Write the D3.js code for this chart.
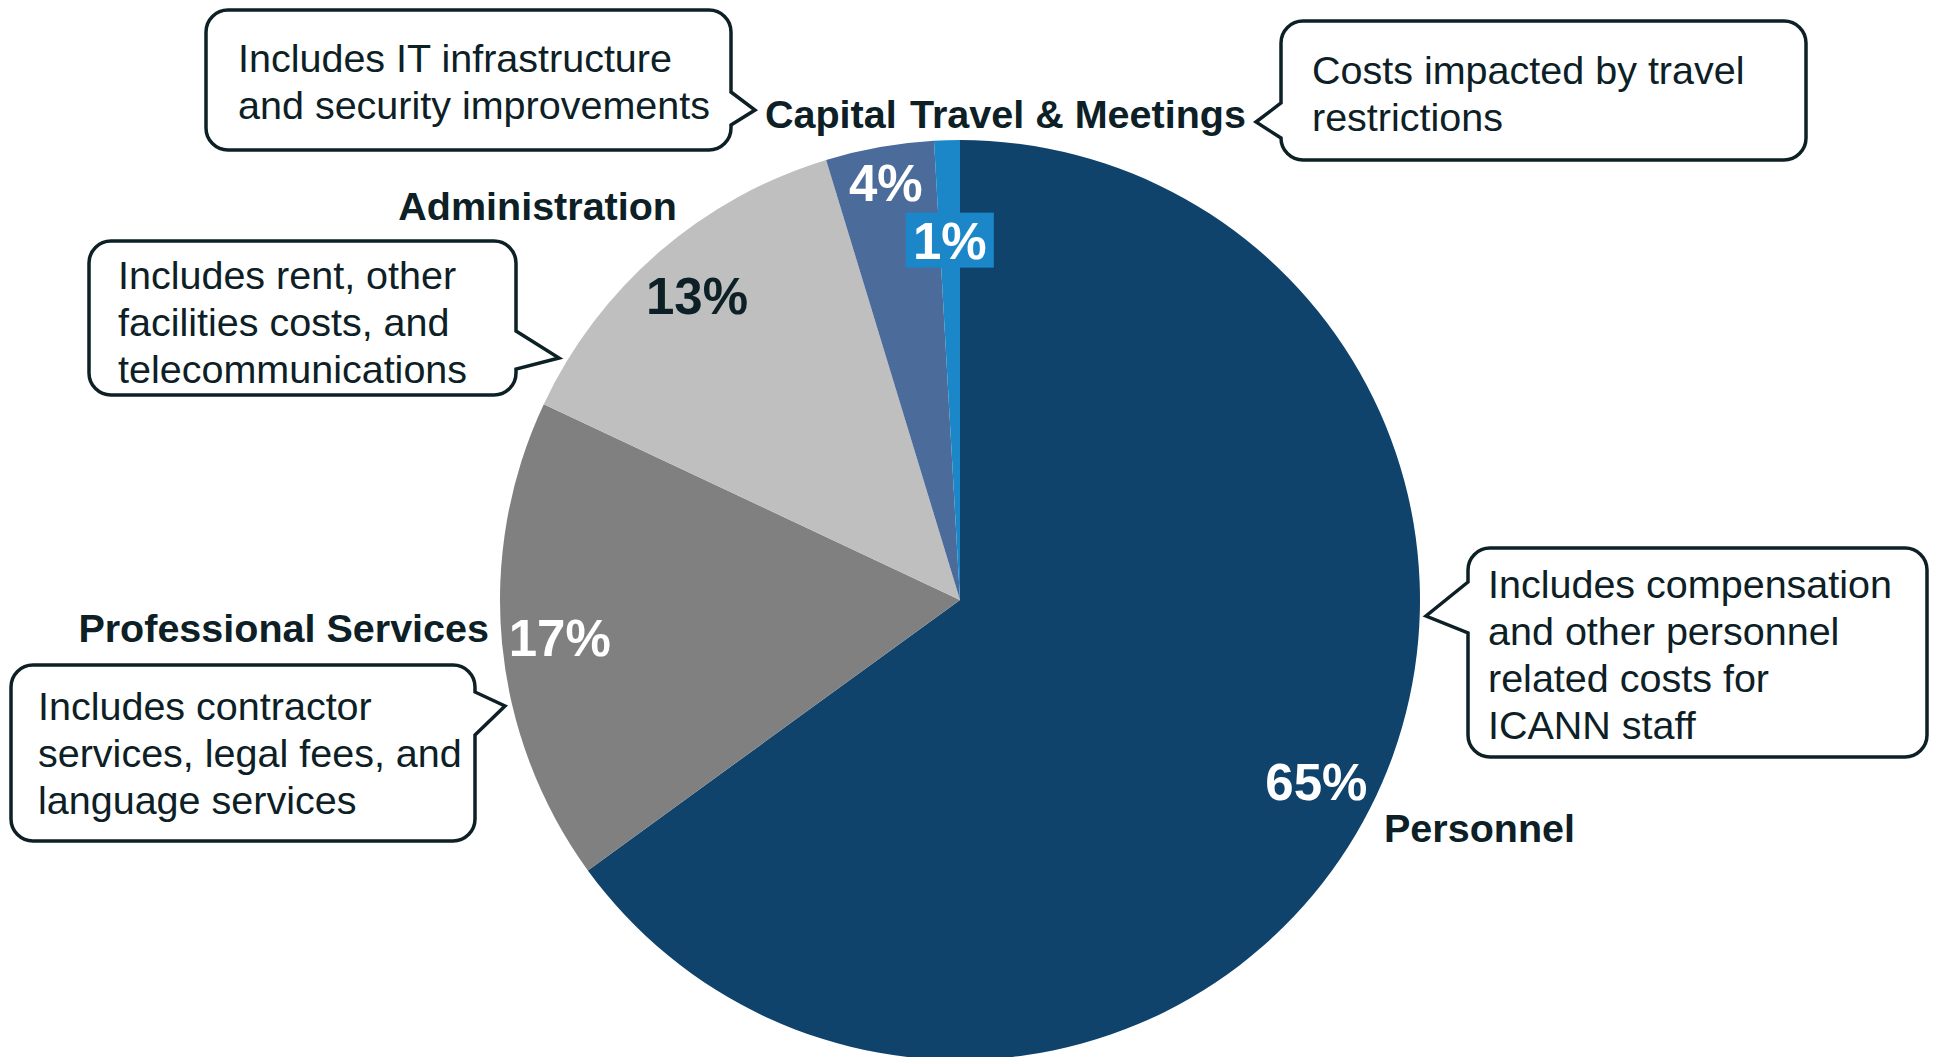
<!DOCTYPE html>
<html>
<head>
<meta charset="utf-8">
<script src="https://cdn.jsdelivr.net/npm/d3@7"></script>
<style>
  html, body { margin: 0; padding: 0; background: #fff; }
  svg { display: block; font-family: "Liberation Sans", Arial, sans-serif; }
  .cat { font-weight: bold; font-size: 39.5px; fill: #0d2026; }
  .pct { font-weight: bold; font-size: 51px; }
  .note { font-size: 39.5px; fill: #0d2026; }
  .bubble { fill: #fff; stroke: #0d2026; stroke-width: 3.5; stroke-linejoin: miter; }
</style>
</head>
<body>
<div id="chart"></div>
<script>
// Data
const categories = ["Personnel", "Professional Services", "Administration", "Capital", "Travel & Meetings"];
const shares = [65, 17, 13.3, 3.8, 0.9];
const shareLabels = ["65%", "17%", "13%", "4%", "1%"];
const notes = [
  ["Includes compensation", "and other personnel", "related costs for", "ICANN staff"],
  ["Includes contractor", "services, legal fees, and", "language services"],
  ["Includes rent, other", "facilities costs, and", "telecommunications"],
  ["Includes IT infrastructure", "and security improvements"],
  ["Costs impacted by travel", "restrictions"]
];

// Styling / layout
const width = 1936;
const height = 1057;
const center = { x: 960, y: 600 };
const radius = 460;
const colors = ["#10436c", "#808080", "#bfbfbf", "#4b6b9a", "#1b87c9"];
const pctColors = ["#fff", "#fff", "#0d2026", "#fff", "#fff"];
const pctRadius = [400, 402, 402, 424, 360];

// hand placed category labels
const catPos = [
  { x: 1384, y: 842, anchor: "start" },
  { x: 489, y: 642, anchor: "end" },
  { x: 677, y: 220, anchor: "end" },
  { x: 765, y: 128, anchor: "start" },
  { x: 910, y: 128, anchor: "start" }
];

// callout bubbles: box, which side the pointer is on, pointer base and tip
const bubbles = [
  { x: 1468, y: 548, w: 459, h: 209, side: "left", p0: 582, p1: 633, tip: [1426, 616], tx: 1488, ty: 598 },
  { x: 11, y: 665, w: 464, h: 176, side: "right", p0: 692, p1: 735, tip: [505, 706], tx: 38, ty: 720 },
  { x: 89, y: 241, w: 427, h: 154, side: "right", p0: 331, p1: 369, tip: [559, 358], tx: 118, ty: 289 },
  { x: 206, y: 10, w: 525, h: 140, side: "right", p0: 92, p1: 125, tip: [755, 110], tx: 238, ty: 72 },
  { x: 1281, y: 21, w: 525, h: 139, side: "left", p0: 103, p1: 138, tip: [1256, 122], tx: 1312, ty: 84 }
];
const lineHeight = 47;

const svg = d3.select("#chart")
  .append("svg")
  .attr("width", width)
  .attr("height", height);

// Pie
const pie = d3.pie().sort(null).value(d => d);
const arcs = pie(shares);
const arc = d3.arc().innerRadius(0).outerRadius(radius);

const pieGroup = svg.append("g")
  .attr("transform", `translate(${center.x}, ${center.y})`);

pieGroup.selectAll("path.slice")
  .data(arcs)
  .join("path")
  .attr("class", "slice")
  .attr("d", arc)
  .attr("fill", (d, i) => colors[i]);

// Percent labels
const labels = pieGroup.selectAll("g.pct-label")
  .data(arcs)
  .join("g")
  .attr("class", "pct-label")
  .attr("transform", (d, i) => {
    const a = d3.arc().innerRadius(pctRadius[i]).outerRadius(pctRadius[i]);
    const [x, y] = a.centroid(d);
    return `translate(${x}, ${y})`;
  });

// the small slice gets a coloured box behind its label
labels.filter((d, i) => i === 4)
  .append("rect")
  .attr("x", -44)
  .attr("y", -27.5)
  .attr("width", 88)
  .attr("height", 55)
  .attr("fill", colors[4]);

labels.append("text")
  .attr("class", "pct")
  .attr("text-anchor", "middle")
  .attr("dy", "0.36em")
  .attr("fill", (d, i) => pctColors[i])
  .text((d, i) => shareLabels[i]);

// Category labels
svg.selectAll("text.cat")
  .data(categories)
  .join("text")
  .attr("class", "cat")
  .attr("x", (d, i) => catPos[i].x)
  .attr("y", (d, i) => catPos[i].y)
  .attr("text-anchor", (d, i) => catPos[i].anchor)
  .text(d => d);

// Callouts
function bubblePath(b, r) {
  const { x, y, w, h } = b;
  const p = d3.path();
  p.moveTo(x + r, y);
  p.lineTo(x + w - r, y);
  p.arcTo(x + w, y, x + w, y + r, r);
  if (b.side === "right") {
    p.lineTo(x + w, b.p0);
    p.lineTo(b.tip[0], b.tip[1]);
    p.lineTo(x + w, b.p1);
  }
  p.lineTo(x + w, y + h - r);
  p.arcTo(x + w, y + h, x + w - r, y + h, r);
  p.lineTo(x + r, y + h);
  p.arcTo(x, y + h, x, y + h - r, r);
  if (b.side === "left") {
    p.lineTo(x, b.p1);
    p.lineTo(b.tip[0], b.tip[1]);
    p.lineTo(x, b.p0);
  }
  p.lineTo(x, y + r);
  p.arcTo(x, y, x + r, y, r);
  p.closePath();
  return p.toString();
}

const callouts = svg.selectAll("g.callout")
  .data(bubbles)
  .join("g")
  .attr("class", "callout");

callouts.append("path")
  .attr("class", "bubble")
  .attr("d", d => bubblePath(d, 22));

callouts.each(function(b, i) {
  d3.select(this).selectAll("text")
    .data(notes[i])
    .join("text")
    .attr("class", "note")
    .attr("x", b.tx)
    .attr("y", (d, j) => b.ty + j * lineHeight)
    .text(d => d);
});
</script>
</body>
</html>
